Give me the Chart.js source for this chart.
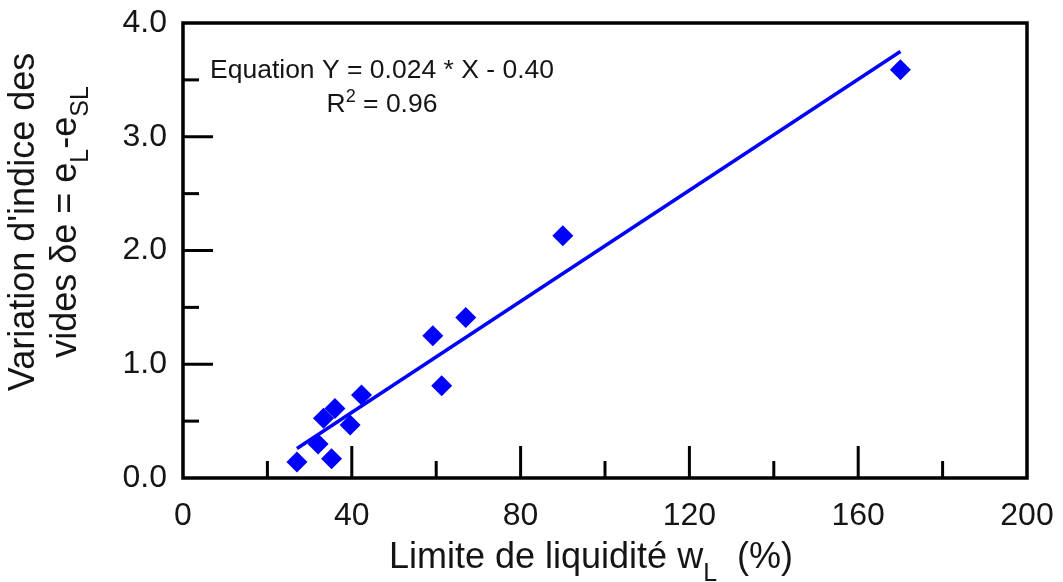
<!DOCTYPE html>
<html>
<head>
<meta charset="utf-8">
<script src="https://cdn.jsdelivr.net/npm/chart.js@4/dist/chart.umd.min.js"></script>
<style>
html,body{margin:0;padding:0;background:#fff;}
#wrap{width:1063px;height:582px;position:relative;}
</style>
</head>
<body>
<div id="wrap"><canvas id="c" width="1063" height="582"></canvas></div>
<script>
// ---- data ----
const liquidLimit = [27, 32, 33.3, 35.2, 36, 39.6, 42.3, 59.2, 61.3, 67, 90, 170];
const voidChange  = [0.14, 0.30, 0.525, 0.17, 0.61, 0.465, 0.73, 1.25, 0.81, 1.41, 2.13, 3.59];
const fitX = [27, 170];
const fitY = [0.26, 3.75];
const xTicks = [0, 40, 80, 120, 160, 200];
const yTicks = [0, 1, 2, 3, 4];
const equationText = "Equation Y = 0.024 * X - 0.40";
const r2Value = "0.96";

const BLUE = '#0000ff';
const TXT = '#151515';
const FONT = '"Liberation Sans", Arial, sans-serif';

function richText(ctx, segs, x, y, size, align, subScale, subDrop) {
  subScale = subScale || 0.68;
  subDrop = subDrop || 0.28;
  const fs = s => (s.mode === 'n' ? size : Math.round(size * subScale));
  const widths = segs.map(s => { ctx.font = fs(s) + 'px ' + FONT; return ctx.measureText(s.t).width; });
  const total = widths.reduce((a, b) => a + b, 0);
  let cx = align === 'center' ? x - total / 2 : x;
  segs.forEach((s, i) => {
    ctx.font = fs(s) + 'px ' + FONT;
    let dy = 0;
    if (s.mode === 'sub') dy = size * subDrop;
    if (s.mode === 'sup') dy = -size * 0.36;
    ctx.fillText(s.t, cx, y + dy);
    cx += widths[i];
  });
}

const decor = {
  id: 'decor',
  afterDraw(chart) {
    const ctx = chart.ctx;
    const a = chart.chartArea;
    const xs = chart.scales.x, ys = chart.scales.y;
    ctx.save();
    ctx.strokeStyle = '#000';
    ctx.lineWidth = 3;
    ctx.lineCap = 'butt';
    for (let v = 20; v < 200; v += 20) {
      const px = xs.getPixelForValue(v);
      const len = (v % 40 === 0) ? 32 : 17;
      ctx.beginPath(); ctx.moveTo(px, a.bottom); ctx.lineTo(px, a.bottom - len); ctx.stroke();
    }
    for (let v = 0.5; v < 4; v += 0.5) {
      const py = ys.getPixelForValue(v);
      const len = (Math.abs(v - Math.round(v)) < 1e-6) ? 30 : 16;
      ctx.beginPath(); ctx.moveTo(a.left, py); ctx.lineTo(a.left + len, py); ctx.stroke();
    }
    ctx.lineWidth = 3.5;
    ctx.strokeRect(a.left, a.top, a.right - a.left, a.bottom - a.top);

    ctx.fillStyle = TXT;
    ctx.textBaseline = 'alphabetic';
    ctx.textAlign = 'left';
    richText(ctx, [{t: equationText, mode: 'n'}], 382, 78, 26.5, 'center');
    richText(ctx, [{t: 'R', mode: 'n'}, {t: '2', mode: 'sup'}, {t: ' = ' + r2Value, mode: 'n'}], 382, 112, 26.5, 'center');

    richText(ctx, [{t: 'Limite de liquidité w', mode: 'n'}, {t: 'L', mode: 'sub'}, {t: '  (%)', mode: 'n'}], 591, 568, 36, 'center', 0.7, 0.36);

    ctx.save();
    ctx.translate(0, 222);
    ctx.rotate(-Math.PI / 2);
    richText(ctx, [{t: "Variation d'indice des", mode: 'n'}], 0, 34, 36, 'center');
    richText(ctx, [{t: 'vides δe = e', mode: 'n'}, {t: 'L', mode: 'sub'}, {t: '-e', mode: 'n'}, {t: 'SL', mode: 'sub'}], 0, 76, 36, 'center', 0.7, 0.32);
    ctx.restore();
    ctx.restore();
  }
};

const pts = liquidLimit.map((x, i) => ({x: x, y: voidChange[i]}));
const fit = fitX.map((x, i) => ({x: x, y: fitY[i]}));

new Chart(document.getElementById('c'), {
  type: 'scatter',
  data: {
    datasets: [
      {
        label: 'points',
        data: pts,
        pointStyle: 'rectRot',
        pointRadius: 10.5,
        pointHoverRadius: 10.5,
        backgroundColor: BLUE,
        borderColor: BLUE,
        borderWidth: 0,
        order: 0
      },
      {
        label: 'fit',
        type: 'line',
        data: fit,
        borderColor: BLUE,
        borderWidth: 3.5,
        pointRadius: 0,
        showLine: true,
        fill: false,
        order: 1
      }
    ]
  },
  options: {
    responsive: false,
    animation: false,
    devicePixelRatio: 1,
    layout: {padding: {top: 23, right: 36, left: 0, bottom: 0}},
    plugins: {legend: {display: false}, tooltip: {enabled: false}},
    scales: {
      x: {
        type: 'linear', min: 0, max: 200,
        afterBuildTicks(s) { s.ticks = xTicks.map(v => ({value: v})); },
        afterFit(s) { s.height = 104; s.paddingLeft = 0; s.paddingRight = 0; },
        grid: {display: false, drawTicks: false},
        border: {display: false},
        ticks: {color: TXT, font: {family: FONT, size: 32}, padding: 19, maxRotation: 0, callback: v => String(v)}
      },
      y: {
        type: 'linear', min: 0, max: 4,
        afterBuildTicks(s) { s.ticks = yTicks.map(v => ({value: v})); },
        afterFit(s) { s.width = 183; s.paddingTop = 0; s.paddingBottom = 0; },
        grid: {display: false, drawTicks: false},
        border: {display: false},
        ticks: {color: TXT, font: {family: FONT, size: 32}, padding: 16, callback: v => Number(v).toFixed(1)}
      }
    }
  },
  plugins: [decor]
});
</script>
</body>
</html>
